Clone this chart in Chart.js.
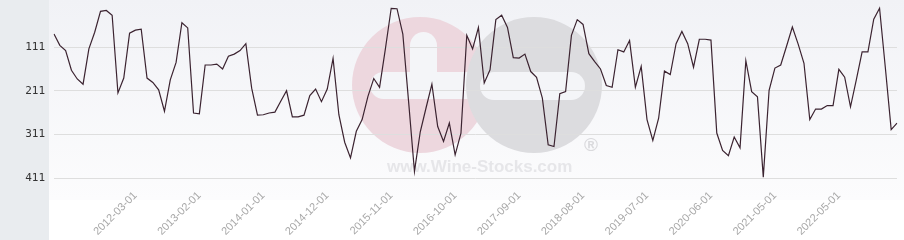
<!DOCTYPE html>
<html>
<head>
<meta charset="utf-8">
<script src="https://cdn.jsdelivr.net/npm/chart.js@4.4.1/dist/chart.umd.min.js"></script>
<style>
html,body{margin:0;padding:0;background:#fff;}
canvas{display:block;}
</style>
</head>
<body>
<canvas id="c" width="904" height="240"></canvas>
<script>
const categories = [
'2011-01-01','2011-02-01','2011-03-01','2011-04-01','2011-05-01','2011-06-01','2011-07-01','2011-08-01','2011-09-01','2011-10-01','2011-11-01','2011-12-01',
'2012-01-01','2012-02-01','2012-03-01','2012-04-01','2012-05-01','2012-06-01','2012-07-01','2012-08-01','2012-09-01','2012-10-01','2012-11-01','2012-12-01',
'2013-01-01','2013-02-01','2013-03-01','2013-04-01','2013-05-01','2013-06-01','2013-07-01','2013-08-01','2013-09-01','2013-10-01','2013-11-01','2013-12-01',
'2014-01-01','2014-02-01','2014-03-01','2014-04-01','2014-05-01','2014-06-01','2014-07-01','2014-08-01','2014-09-01','2014-10-01','2014-11-01','2014-12-01',
'2015-01-01','2015-02-01','2015-03-01','2015-04-01','2015-05-01','2015-06-01','2015-07-01','2015-08-01','2015-09-01','2015-10-01','2015-11-01','2015-12-01',
'2016-01-01','2016-02-01','2016-03-01','2016-04-01','2016-05-01','2016-06-01','2016-07-01','2016-08-01','2016-09-01','2016-10-01','2016-11-01','2016-12-01',
'2017-01-01','2017-02-01','2017-03-01','2017-04-01','2017-05-01','2017-06-01','2017-07-01','2017-08-01','2017-09-01','2017-10-01','2017-11-01','2017-12-01',
'2018-01-01','2018-02-01','2018-03-01','2018-04-01','2018-05-01','2018-06-01','2018-07-01','2018-08-01','2018-09-01','2018-10-01','2018-11-01','2018-12-01',
'2019-01-01','2019-02-01','2019-03-01','2019-04-01','2019-05-01','2019-06-01','2019-07-01','2019-08-01','2019-09-01','2019-10-01','2019-11-01','2019-12-01',
'2020-01-01','2020-02-01','2020-03-01','2020-04-01','2020-05-01','2020-06-01','2020-07-01','2020-08-01','2020-09-01','2020-10-01','2020-11-01','2020-12-01',
'2021-01-01','2021-02-01','2021-03-01','2021-04-01','2021-05-01','2021-06-01','2021-07-01','2021-08-01','2021-09-01','2021-10-01','2021-11-01',
'2022-01-01','2022-02-01','2022-03-01','2022-04-01','2022-05-01','2022-06-01','2022-07-01','2022-08-01','2022-09-01','2022-10-01','2022-11-01','2022-12-01',
'2023-01-01','2023-02-01','2023-03-01'
];

const rankValues = [
81,107,119,164,184,196,115,77,29,27,38,216,182,79,72,70,182,192,209,258,
186,146,55,67,262,264,152,152,150,161,132,127,119,103,205,267,266,262,260,235,
211,271,271,267,222,207,236,207,137,266,329,365,304,277,224,183,203,115,22,23,
81,237,396,305,250,196,293,327,285,358,308,84,115,66,193,163,48,38,66,135,
136,127,167,180,228,335,339,218,213,84,48,59,126,144,161,199,203,117,122,96,
203,155,277,325,274,166,174,103,75,103,157,93,93,95,308,348,360,317,342,142,
213,225,409,210,159,152,109,65,104,148,277,253,253,245,245,162,180,248,186,122,
122,47,22,159,300,285
];

const yTickValues = [111, 211, 311, 411];
const xTickLabels = ['2012-03-01','2013-02-01','2014-01-01','2014-12-01','2015-11-01','2016-10-01',
  '2017-09-01','2018-08-01','2019-07-01','2020-06-01','2021-05-01','2022-05-01'];

const bgPlugin = {
  id: 'bg',
  beforeDraw(chart) {
    const ctx = chart.ctx;
    const W = chart.width, H = chart.height;
    ctx.save();
    ctx.fillStyle = '#ffffff';
    ctx.fillRect(0, 0, W, H);
    const g = ctx.createLinearGradient(0, 0, 0, 200);
    g.addColorStop(0, '#f1f2f6');
    g.addColorStop(1, '#fcfcfd');
    ctx.fillStyle = g;
    ctx.fillRect(49, 0, W - 49, 200);
    ctx.fillStyle = '#e9ecef';
    ctx.fillRect(0, 0, 49, H);
    // watermark
    ctx.fillStyle = '#edd7de';
    ctx.beginPath(); ctx.arc(420, 85, 68, 0, Math.PI * 2); ctx.fill();
    ctx.fillStyle = '#f4f5f8';
    ctx.beginPath(); ctx.roundRect(370, 72, 110, 27, 13.5); ctx.fill();
    ctx.beginPath(); ctx.roundRect(410, 32, 27, 60, 13.5); ctx.fill();
    ctx.fillStyle = '#dcdcdf';
    ctx.beginPath(); ctx.arc(534, 85, 68, 0, Math.PI * 2); ctx.fill();
    ctx.fillStyle = '#f4f5f8';
    ctx.beginPath(); ctx.roundRect(480, 72, 105, 28, 14); ctx.fill();
    ctx.fillStyle = '#e6e6e9';
    ctx.font = 'bold 17px "Liberation Sans", Arial, sans-serif';
    ctx.textBaseline = 'alphabetic';
    ctx.fillText('www.Wine-Stocks.com', 387, 172);
    ctx.fillStyle = '#dadadd';
    ctx.font = 'bold 19px "Liberation Sans", Arial, sans-serif';
    ctx.textAlign = 'center';
    ctx.textBaseline = 'middle';
    ctx.fillText('®', 591, 146);
    ctx.restore();
  }
};

new Chart(document.getElementById('c'), {
  type: 'line',
  data: {
    labels: categories,
    datasets: [{
      data: rankValues,
      borderColor: '#3b2330',
      borderWidth: 1.2,
      pointRadius: 0,
      tension: 0,
      fill: false
    }]
  },
  options: {
    responsive: false,
    devicePixelRatio: 1,
    animation: false,
    layout: { padding: { left: 0, right: 7, top: 0, bottom: 0 } },
    plugins: { legend: { display: false }, tooltip: { enabled: false } },
    scales: {
      x: {
        type: 'category',
        offset: false,
        grid: { display: false },
        border: { display: false },
        ticks: {
          autoSkip: false,
          maxRotation: 45,
          minRotation: 45,
          padding: 3,
          color: '#a8a8a8',
          font: { family: '"Liberation Sans", Arial, sans-serif', size: 11 },
          callback: function(val, idx) {
            const lab = categories[idx];
            return xTickLabels.includes(lab) ? lab : '';
          }
        },
        afterFit: function(s) {
          s.height = 62;
          s.paddingLeft = 0; s.paddingRight = 0; s.paddingTop = 0; s.paddingBottom = 0;
        }
      },
      y: {
        type: 'linear',
        reverse: true,
        min: 3,
        max: 411,
        afterBuildTicks: function(s) { s.ticks = yTickValues.map(v => ({ value: v })); },
        grid: { color: '#dedede', lineWidth: 1, drawTicks: false },
        border: { display: false },
        ticks: {
          padding: 9,
          color: '#333333',
          font: { family: '"DejaVu Sans Mono", monospace', size: 11 }
        },
        afterFit: function(s) {
          s.width = 54;
          s.paddingLeft = 0; s.paddingRight = 0; s.paddingTop = 0; s.paddingBottom = 0;
        }
      }
    }
  },
  plugins: [bgPlugin]
});
</script>
</body>
</html>
